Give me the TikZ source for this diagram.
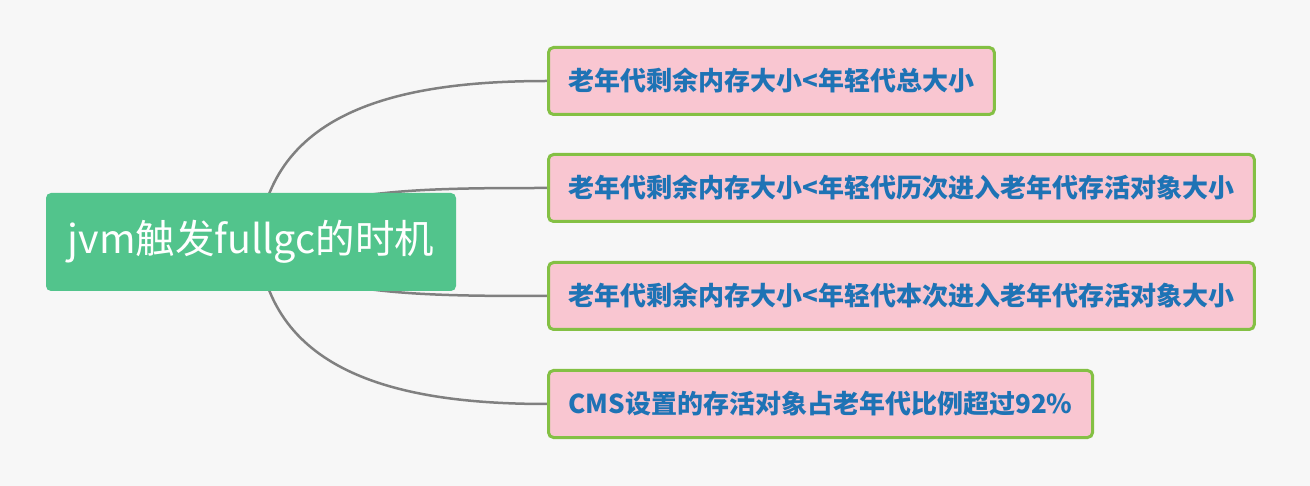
\documentclass[tikz,border=0pt]{standalone}
\usepackage{fontspec}
\setmainfont{Noto Sans CJK SC}
\usepackage{xcolor}
\definecolor{pagebg}{HTML}{F7F7F7}
\definecolor{rootgreen}{HTML}{52C48C}
\definecolor{leafpink}{HTML}{F9C6D1}
\definecolor{leafedge}{HTML}{84C044}
\definecolor{leafblue}{HTML}{1E73B5}
\definecolor{linkgray}{HTML}{808080}
\pgfdeclarelayer{back}
\pgfdeclarelayer{links}
\pgfsetlayers{back,links,main}

\begin{document}
\begin{tikzpicture}[x=1pt, y=-1pt,
  rootbox/.style={fill=rootgreen, rounded corners=5pt, minimum width=410pt, minimum height=98pt, text=white, font=\fontsize{39.5}{44}\selectfont, inner sep=0pt},
  leafbox/.style={draw=leafedge, line width=3pt, fill=leafpink, rounded corners=5pt, anchor=west, minimum height=67pt, inner xsep=20pt, text=leafblue, font=\fontsize{26}{30}\selectfont\bfseries},
  link/.style={draw=linkgray, line width=2.5pt}]
\begin{pgfonlayer}{back}
\fill[pagebg] (0,0) rectangle (1310,486);
\end{pgfonlayer}
\useasboundingbox (0,0) rectangle (1310,486);

\node[rootbox] (root) at (251,242) {jvm触发fullgc的时机};

\node[leafbox] (leafa) at (547,81) {老年代剩余内存大小<年轻代总大小};
\node[leafbox] (leafb) at (547,188) {老年代剩余内存大小<年轻代历次进入老年代存活对象大小};
\node[leafbox] (leafc) at (547,296) {老年代剩余内存大小<年轻代本次进入老年代存活对象大小};
\node[leafbox] (leafd) at (547,404) {CMS设置的存活对象占老年代比例超过92\%};

% curves from the root
\begin{pgfonlayer}{links}
\draw[link] (root.center) ++(7,0) .. controls +(12,-132) and +(-147,0) .. (leafa.west);
\draw[link] (root.center) .. controls +(49,-54) and +(-127,0) .. (leafb.west);
\draw[link] (root.center) .. controls +(49,54) and +(-127,0) .. (leafc.west);
\draw[link] (root.center) ++(7,0) .. controls +(12,132) and +(-147,0) .. (leafd.west);
\end{pgfonlayer}
\end{tikzpicture}
\end{document}
